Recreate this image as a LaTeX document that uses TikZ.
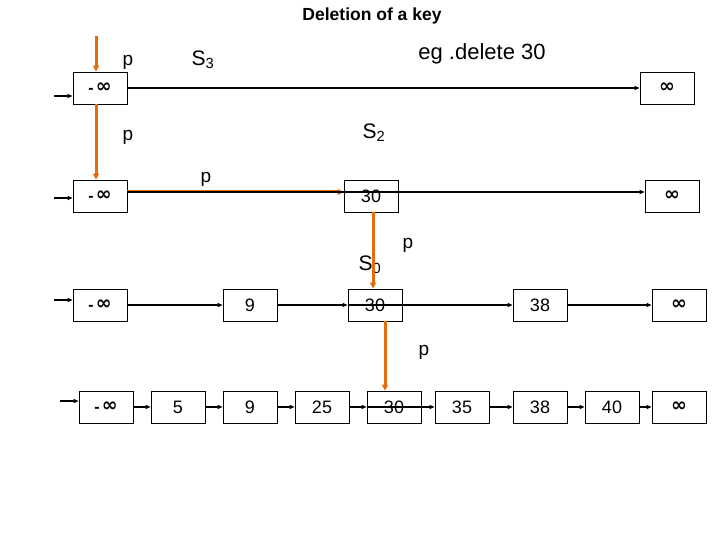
\documentclass[tikz,border=0pt]{standalone}
\usepackage{fontspec}
\setmainfont{Liberation Sans}
\newfontfamily\symfont{DejaVu Sans}
\usetikzlibrary{arrows.meta,calc}
\definecolor{ptrorange}{RGB}{228,108,10}
\newcommand{\pinf}{\raisebox{-4pt}{\symfont\bfseries\fontsize{19}{19}\selectfont ∞}}
\newcommand{\ninf}{\raisebox{-5pt}{\bfseries\fontsize{16}{16}\selectfont -}\,\pinf}
\tikzset{
  key/.style={draw, line width=0.8pt, minimum width=54pt, minimum height=32pt, inner sep=0pt, font=\fontsize{18}{18}\selectfont},
  endkey/.style={key, font=\fontsize{13}{13}\selectfont},
  link/.style={line width=1.3pt, -{Triangle[length=5pt,width=4pt]}},
  ptr/.style={line width=3pt, ptrorange, -{Triangle[length=6pt,width=6pt]}},
  lbl/.style={font=\fontsize{19}{19}\selectfont},
}
\begin{document}
\begin{tikzpicture}[x=1pt,y=-1pt]
            \useasboundingbox (0,0) rectangle (720,540);
            \node[font=\fontsize{17.5}{17.5}\selectfont\bfseries] (title) at (372,16) {Deletion of a key};

            % Lista S3
            \node[endkey] (m3) at (100,88) {\ninf};
            \node[endkey] (i3) at (667,88) {\pinf};
            \node[lbl] (p3) at (128,62) {p};
            \node[font=\fontsize{21}{21}\selectfont] (s3) at (203,60) {S\textsubscript{3}};
            \node[font=\fontsize{22}{22}\selectfont] (eg) at (482,54) {eg .delete 30};
            \coordinate (e3) at (54,96);
            \draw[link] (e3) -- (e3 -| m3.west);
            \draw[link] (m3) -- (i3);

            % Lista S2
            \node[endkey] (m2) at (100,196) {\ninf};
            \node[key] (c2) at (371,196) {30};
            \node[endkey] (i2) at (672,196) {\pinf};
            \node[lbl] (p2) at (128,137) {p};
            \node[font=\fontsize{21}{21}\selectfont] (s2) at (374,133) {S\textsubscript{2}};
            \node[lbl] (p2b) at (206,179) {p};
            \coordinate (e2) at (54,198);
            \draw[link] (e2) -- (e2 -| m2.west);
            \draw[ptr] ([yshift=4pt]m2.east) -- ([yshift=4pt]c2.west);
            \draw[link] ([yshift=4pt]m2.east) -- ([yshift=4pt]i2.west);

            % Lista S1
            \node[endkey] (m1) at (100,305) {\ninf};
            \node[key] (a1) at (250,305) {9};
            \node[key] (c1) at (375,305) {30};
            \node[key] (d1) at (540,305) {38};
            \node[endkey] (i1) at (679,305) {\pinf};
            \node[font=\fontsize{21}{21}\selectfont] (s1) at (370,265) {S\textsubscript{0}};
            \node[lbl] (p1) at (408,245) {p};
            \coordinate (e1) at (54,300);
            \draw[link] (e1) -- (e1 -| m1.west);
            \draw[link] (m1) -- (a1);
            \draw[link] (a1) -- (c1);
            \draw[link] (c1.west) -- (d1.west);
            \draw[link] (d1) -- (i1);

            % Lista S0
            \node[endkey] (m0) at (106,407) {\ninf};
            \node[key] (k5) at (178,407) {5};
            \node[key] (k9) at (250,407) {9};
            \node[key] (k25) at (322,407) {25};
            \node[key] (k30) at (394,407) {30};
            \node[key] (k35) at (462,407) {35};
            \node[key] (k38) at (540,407) {38};
            \node[key] (k40) at (612,407) {40};
            \node[endkey] (i0) at (679,407) {\pinf};
            \node[lbl] (p0) at (424,352) {p};
            \coordinate (e0) at (60,401);
            \draw[link] (e0) -- (e0 -| m0.west);
            \draw[link] (m0) -- (k5);
            \draw[link] (k5) -- (k9);
            \draw[link] (k9) -- (k25);
            \draw[link] (k25) -- (k30);
            \draw[link] (k30.west) -- (k35.west);
            \draw[link] (k35) -- (k38);
            \draw[link] (k38) -- (k40);
            \draw[link] (k40) -- (i0);

            % Puntero p
            \coordinate (top) at (96,36);
            \draw[ptr] (top) -- (top |- m3.north);
            \draw[ptr] ([xshift=-4pt]m3.south) -- ([xshift=-4pt]m2.north);
            \draw[ptr] ([xshift=-2pt]c1.north |- c2.south) -- ([xshift=-2pt]c1.north);
            \draw[ptr] ([xshift=-9pt]k30.north |- c1.south) -- ([xshift=-9pt]k30.north);
        \end{tikzpicture}
\end{document}
